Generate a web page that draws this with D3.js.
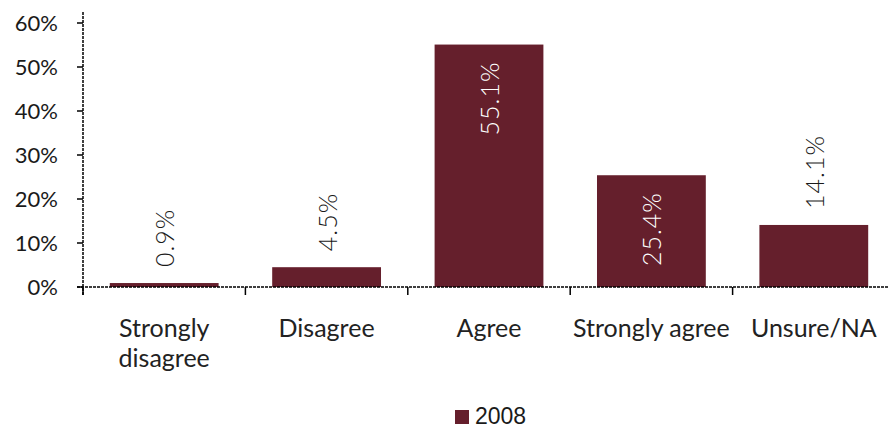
<!DOCTYPE html>
<html><head><meta charset="utf-8">
<script src="https://cdn.jsdelivr.net/npm/d3@7"></script>
<style>body{margin:0;background:#fff}svg{display:block}</style>
</head><body>
<script>
const categories = [["Strongly","disagree"],["Disagree"],["Agree"],["Strongly agree"],["Unsure/NA"]];
const values = [0.9, 4.5, 55.1, 25.4, 14.1];
const yTicks = [0,10,20,30,40,50,60];
const seriesName = "2008";
const color = "#651f2c";
const font = "Lato,'Open Sans',sans-serif";

const W=888,H=428;
const svg=d3.select("body").append("svg").attr("width",W).attr("height",H);
const x=d3.scaleBand().domain(d3.range(values.length)).range([83,895]).paddingInner(0.33).paddingOuter(0.165);
const y=d3.scaleLinear().domain([0,60]).range([287,23]);

svg.selectAll("rect.bar").data(values).join("rect")
 .attr("x",(d,i)=>x(i)).attr("width",x.bandwidth())
 .attr("y",d=>y(d)).attr("height",d=>y(0)-y(d)).attr("fill",color);

// value labels
svg.selectAll("text.val").data(values).join("text")
 .attr("transform",(d,i)=>{
   const cx=x(i)+x.bandwidth()/2;
   const inside=d>20;
   const yy=inside? y(d)+17 : y(d)-16;
   return `translate(${cx+10},${yy}) rotate(-90)`;
 })
 .attr("text-anchor",d=>d>20?"end":"start")
 .attr("fill",d=>d>20?"#fff":"#1a1a1a")
 .attr("font-family",font).attr("font-size",25).attr("font-weight",300)
 .attr("letter-spacing",1)
 .text(d=>d.toFixed(1)+"%");

// y axis
svg.append("line").attr("x1",83).attr("x2",83).attr("y1",12).attr("y2",295)
 .attr("stroke","#000").attr("stroke-width",1.5).attr("stroke-dasharray","3,1");
yTicks.forEach(t=>{
 svg.append("line").attr("x1",77).attr("x2",83).attr("y1",y(t)).attr("y2",y(t)).attr("stroke","#000").attr("stroke-width",1.5);
 svg.append("text").attr("x",58).attr("y",y(t)+8).attr("text-anchor","end")
  .attr("font-family",font).attr("font-size",22).attr("font-weight",400).attr("fill","#1a1a1a").text(t+"%");
});
// x axis
svg.append("line").attr("x1",77).attr("x2",W).attr("y1",287).attr("y2",287)
 .attr("stroke","#000").attr("stroke-width",1.5).attr("stroke-dasharray","3,1");
const step=x.step();
for(let i=0;i<=values.length;i++){
 const tx=83+i*step;
 svg.append("line").attr("x1",tx).attr("x2",tx).attr("y1",287).attr("y2",295).attr("stroke","#000").attr("stroke-width",1.5);
}
categories.forEach((c,i)=>{
 const t=svg.append("text").attr("x",x(i)+x.bandwidth()/2).attr("y",337).attr("text-anchor","middle")
  .attr("font-family",font).attr("font-size",25).attr("font-weight",400).attr("fill","#222");
 c.forEach((line,j)=>t.append("tspan").attr("x",x(i)+x.bandwidth()/2).attr("dy",j?30:0).text(line));
});
// legend
svg.append("rect").attr("x",455).attr("y",410).attr("width",14).attr("height",14).attr("fill",color);
svg.append("text").attr("x",475).attr("y",424).attr("font-family","'Liberation Sans',Arial,sans-serif")
 .attr("font-size",23).attr("fill","#1a1a1a").text(seriesName);
</script>
</body></html>
